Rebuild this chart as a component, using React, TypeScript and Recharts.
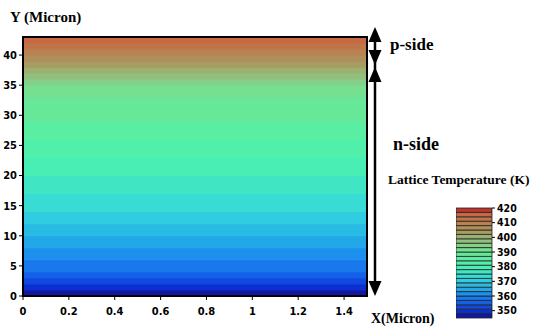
import { ComposedChart, XAxis, YAxis, ReferenceArea } from 'recharts';

// temperature (K) of each 1-micron row, bottom (y=0) to top (y=43)
const rowBottoms = [0, 1, 2, 3, 4, 5, 6, 7, 8, 9, 10, 11, 12, 13, 14, 15, 16, 17, 18, 19, 20, 21, 22, 23, 24, 25, 26, 27, 28, 29, 30, 31, 32, 33, 34, 35, 36, 37, 38, 39, 40, 41, 42];
const rowTemps = [
  346, 350, 352, 355, 357, 359, 361, 362, 364, 365,
  367, 368, 369.5, 370.5, 372, 373, 374.5, 375.5, 376.5, 377.5,
  378.5, 379.5, 380.5, 381.5, 382.5, 383, 384, 385, 386, 387,
  387.5, 388.5, 389.5, 390.5, 392, 394, 397, 399, 402, 405,
  408, 412, 415,
];

const xTicks = [0, 0.2, 0.4, 0.6, 0.8, 1, 1.2, 1.4];
const yTicks = [0, 5, 10, 15, 20, 25, 30, 35, 40];

// colour scale levels (lower edge of each band) and their colours
const levelEdges = [345, 348, 351, 354, 357, 360, 363, 366, 369, 372, 375, 378, 381, 384, 387, 390, 393, 396, 399, 402, 405, 408, 411, 414, 417];
const levelColors = [
  '#1418a0', '#0c30d0', '#1048e0', '#1460e8', '#1878ec', '#1c90ec', '#22a8e8', '#28bce4', '#30cce0',
  '#38dcd4', '#40e6c4', '#48eeb4', '#50f0aa', '#5aeea2', '#66e898', '#74e090', '#84d088', '#90c07c',
  '#9cb070', '#a89c62', '#b08e5a', '#b88252', '#c0744a', '#c86842', '#b83830',
];
const barTicks = [350, 360, 370, 380, 390, 400, 410, 420];

const colorFor = (t: number) => {
  let idx = 0;
  levelEdges.forEach((e, i) => {
    if (t >= e) idx = i;
  });
  return levelColors[idx];
};

const tickStyle = {
  fontFamily: '"DejaVu Sans Condensed", "Liberation Sans Narrow", sans-serif',
  fontWeight: 'bold',
  fontSize: 11,
  fill: '#000',
};

const serif = '"Liberation Serif", "Times New Roman", serif';

export default function App() {
  return (
    <div style={{ position: 'absolute', left: 0, top: 0, width: 533, height: 327, background: '#fff' }}>
      <ComposedChart width={533} height={327} margin={{ top: 37, right: 166, bottom: 7, left: 0 }}>
        <XAxis
          type="number"
          dataKey="x"
          domain={[0, 1.5]}
          ticks={xTicks}
          tick={tickStyle}
          tickSize={4}
          tickMargin={7}
          height={24}
          axisLine={{ stroke: '#000', strokeWidth: 2 }}
          tickLine={{ stroke: '#000' }}
          interval={0}
          allowDataOverflow
        />
        <YAxis
          type="number"
          dataKey="y"
          domain={[0, 43]}
          ticks={yTicks}
          tick={tickStyle}
          tickSize={4}
          width={23}
          axisLine={{ stroke: '#000', strokeWidth: 2 }}
          tickLine={{ stroke: '#000' }}
          interval={0}
          allowDataOverflow
        />
        {rowBottoms.map((y, i) => (
          <ReferenceArea
            key={y}
            x1={0}
            x2={1.5}
            y1={y}
            y2={y + 1}
            fill={colorFor(rowTemps[i])}
            fillOpacity={1}
            stroke={colorFor(rowTemps[i])}
            strokeWidth={1}
          />
        ))}
        <ReferenceArea x1={0} x2={1.5} y1={0} y2={43} fill="none" stroke="#000" strokeWidth={2} />
      </ComposedChart>

      <div style={{ position: 'absolute', left: 456, top: 203 }}>
        <ComposedChart width={80} height={120} margin={{ top: 5, right: 0, bottom: 5, left: 0 }}>
          <XAxis
            type="number"
            dataKey="x"
            domain={[0, 1]}
            height={0}
            axisLine={false}
            tickLine={false}
            tick={false}
            allowDataOverflow
          />
          <YAxis
            type="number"
            dataKey="y"
            orientation="right"
            domain={[345, 420]}
            ticks={barTicks}
            tick={{ ...tickStyle, fontSize: 10.5 }}
            tickSize={3}
            width={44}
            axisLine={false}
            tickLine={{ stroke: '#000' }}
            interval={0}
            allowDataOverflow
          />
          {levelEdges.map((e, i) => (
            <ReferenceArea
              key={e}
              x1={0}
              x2={1}
              y1={e}
              y2={e + 3}
              fill={levelColors[i]}
              fillOpacity={1}
              stroke="#222"
              strokeWidth={0.8}
            />
          ))}
        </ComposedChart>
      </div>

      <svg width={533} height={327} style={{ position: 'absolute', left: 0, top: 0, pointerEvents: 'none' }}>
        <line x1={375} y1={35} x2={375} y2={290} stroke="#000" strokeWidth={2.5} />
        <polygon points="375,27 368.5,42 381.5,42" fill="#000" />
        <polygon points="368.5,50 381.5,50 375,65" fill="#000" />
        <polygon points="375,67 368.5,82 381.5,82" fill="#000" />
        <polygon points="368.5,281 381.5,281 375,296" fill="#000" />
        <text x={10} y={22} fontFamily={serif} fontWeight={700} fontSize={15}>Y (Micron)</text>
        <text x={390} y={50} fontFamily={serif} fontWeight={700} fontSize={17}>p-side</text>
        <text x={393} y={150} fontFamily={serif} fontWeight={700} fontSize={18}>n-side</text>
        <text x={388} y={184} fontFamily={serif} fontWeight={700} fontSize={13.5}>Lattice Temperature (K)</text>
        <text x={371} y={323} fontFamily={serif} fontWeight={700} fontSize={14}>X(Micron)</text>
      </svg>
    </div>
  );
}
